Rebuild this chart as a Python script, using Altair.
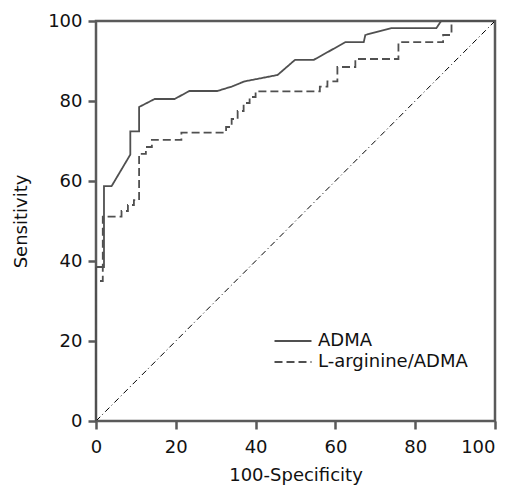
import altair as alt
import pandas as pd

series_names = ["ADMA", "L-arginine/ADMA"]

adma_x = [0, 0, 2, 2, 3.9, 8.6, 8.6, 10.8, 10.8, 14.7, 19.7, 23.4, 30.4, 34, 37.2,
          45.5, 49.9, 54.6, 62.5, 67.1, 67.5, 74, 85.3, 86.5, 100]
adma_y = [0, 38.5, 38.5, 58.7, 58.7, 66.6, 72.4, 72.4, 78.5, 80.5, 80.5, 82.5, 82.5, 83.6, 84.9,
          86.5, 90.3, 90.3, 94.7, 94.7, 96.5, 98.2, 98.2, 100, 100]

larg_x = [0, 0, 1.7, 1.7, 6.4, 6.4, 8, 8, 9.5, 9.5, 10.8, 10.8, 12.5, 12.5, 14, 14,
          21.4, 21.4, 32.6, 32.6, 34, 34, 35.5, 35.5, 37, 37, 38.5, 38.5, 40, 40,
          56.1, 56.1, 58, 58, 60.5, 60.5, 65, 65, 75.8, 75.8, 87, 87, 89.1, 89.1, 100]
larg_y = [0, 35, 35, 51.1, 51.1, 52.5, 52.5, 54, 54, 55.2, 55.2, 66.8, 66.8, 68.5, 68.5, 70.3,
          70.3, 72.1, 72.1, 73.5, 73.5, 75.5, 75.5, 77.5, 77.5, 79.5, 79.5, 81, 81, 82.4,
          82.4, 83.6, 83.6, 84.9, 84.9, 88.5, 88.5, 90.5, 90.5, 94.7, 94.7, 96.5, 96.5, 100, 100]

diag_x = [0, 100]
diag_y = [0, 100]

tick_values = [0, 20, 40, 60, 80, 100]

rows = []
for i, (x, y) in enumerate(zip(adma_x, adma_y)):
    rows.append({"series": series_names[0], "x": x, "y": y, "o": i})
for i, (x, y) in enumerate(zip(larg_x, larg_y)):
    rows.append({"series": series_names[1], "x": x, "y": y, "o": i})
df = pd.DataFrame(rows)
ddf = pd.DataFrame({"x": diag_x, "y": diag_y})

FONT = "DejaVu Sans"
xs = alt.Scale(domain=[0, 100], nice=False)
ys = alt.Scale(domain=[0, 100], nice=False)

curves = alt.Chart(df).mark_line(color="#505050", strokeWidth=1.8).encode(
    x=alt.X("x:Q", scale=xs, title="100-Specificity",
            axis=alt.Axis(values=tick_values,
                          labelAlign={"expr": "datum.value == 100 ? 'right' : 'center'"})),
    y=alt.Y("y:Q", scale=ys, title="Sensitivity",
            axis=alt.Axis(values=tick_values)),
    order="o:Q",
    strokeDash=alt.StrokeDash(
        "series:N",
        scale=alt.Scale(domain=series_names, range=[[1, 0], [8, 4]]),
        legend=alt.Legend(title=None, orient="none", legendX=186, legendY=309,
                          symbolType="M-1.85,0L1.85,0", symbolSize=400, symbolStrokeWidth=1.8,
                          symbolStrokeColor="#505050", labelFontSize=18,
                          labelFont=FONT, labelColor="#111111",
                          rowPadding=1, labelOffset=14),
    ),
)

diag = alt.Chart(ddf).mark_line(color="black", strokeWidth=1, strokeDash=[6, 3, 1, 3]).encode(
    x=alt.X("x:Q", scale=xs),
    y=alt.Y("y:Q", scale=ys),
)

chart = (diag + curves).properties(
    width=399, height=400,
    autosize=alt.AutoSizeParams(type="none"),
    padding={"left": 88, "top": 13, "right": 2, "bottom": 66},
).configure_view(
    stroke="#5a5a5a", strokeWidth=2.5
).configure_axis(
    grid=False, domain=False, tickColor="#5a5a5a", tickWidth=2.5, tickSize=8,
    labelFontSize=18, labelFont=FONT, labelColor="#111111",
    titleFontSize=18, titleFont=FONT, titleColor="#111111",
    titleFontWeight="normal",
).configure_axisX(labelPadding=9, titlePadding=10).configure_axisY(labelPadding=6, titlePadding=17)

chart.save("out.html", embed_options={"renderer": "svg", "actions": False})
